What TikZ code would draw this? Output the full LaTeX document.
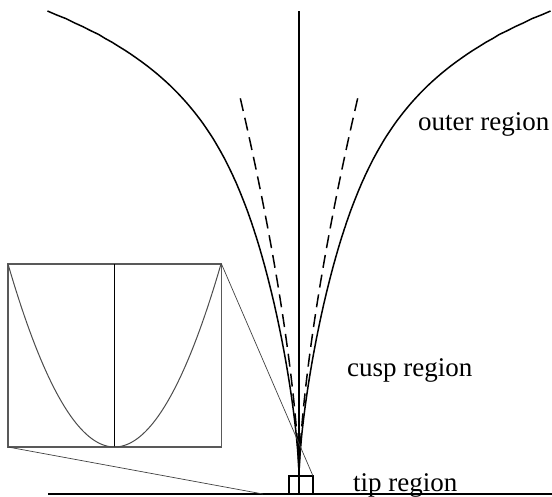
\documentclass[tikz,border=0pt]{standalone}
\usepackage{fontspec}
\setmainfont{Liberation Serif}
\begin{document}
\begin{tikzpicture}[x=1pt,y=-1pt,
  curve/.style={line width=1.5pt, line join=round},
  dcurve/.style={line width=1.5pt, dash pattern=on 13pt off 7pt},
  axisline/.style={line width=2pt},
  baseline/.style={line width=2.2pt},
  tipbox/.style={line width=1.8pt},
  insetbox/.style={draw=black!65, line width=1.3pt},
  thin/.style={draw=black!75, line width=0.7pt},
  lbl/.style={anchor=base west, inner sep=0pt, font=\fontsize{27}{27}\selectfont}]
\useasboundingbox (0,0) rectangle (552,496);
% axis and base line
\coordinate (axtop) at (299,11);
\coordinate (axbot) at (299,494);
\coordinate (bl) at (48,494);
\coordinate (br) at (552,494);
\draw[baseline] (bl) -- (br);
\draw[axisline] (axtop) -- (axbot);
% outer curves
\draw[curve] plot[domain=465:0, samples=120] ({299-\x*sqrt(\x)*(0.0105+exp(0.0115*\x-9.5725))},{476-\x}) -- (axbot);
\draw[curve] plot[domain=465:0, samples=120] ({299+\x*sqrt(\x)*(0.0105+exp(0.0115*\x-9.5725))},{476-\x}) -- (axbot);
% dashed asymptotic cusp
\draw[dcurve] plot[domain=377.7:0, samples=50] ({299-0.008*\x*sqrt(\x)},{476-\x});
\draw[dcurve] plot[domain=377.7:0, samples=50] ({299+0.008*\x*sqrt(\x)},{476-\x});
% tip box
\coordinate (tbl) at (289,494);
\coordinate (tbtr) at (313,476);
\draw[tipbox] (tbl) rectangle (tbtr);
% inset
\coordinate (itl) at (8,264);
\coordinate (itr) at (221.5,264);
\coordinate (ibl) at (8,447);
\coordinate (ibr) at (221.5,447);
\draw[insetbox] (itl) rectangle (ibr);
\draw[line width=1pt] (114.5,264) -- (114.5,447);
\draw[draw=black!70, line width=1pt] plot[domain=-1:1, samples=80] ({114.5+106.5*\x},{447-183*\x*\x});
% zoom connectors
\coordinate (cb) at (263,494);
\draw[thin] (itr) -- (tbtr);
\draw[thin] (ibl) -- (cb);
% labels
\node[lbl] (outer) at (418,130.5) {outer region};
\node[lbl] (cusp) at (347,376) {cusp region};
\node[lbl] (tip) at (353,491) {tip region};
\end{tikzpicture}
\end{document}
